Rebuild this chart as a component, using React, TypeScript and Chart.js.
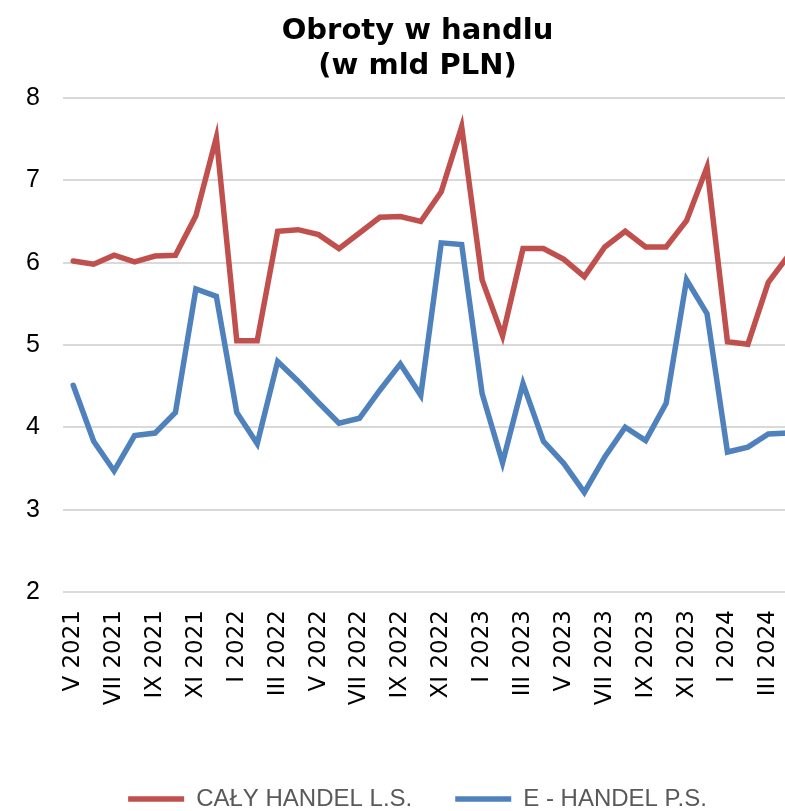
import React, { useEffect, useRef } from "react";
import { Chart, registerables } from "chart.js";

Chart.register(...registerables);

const categories = [
  "V 2021", "VI 2021", "VII 2021", "VIII 2021", "IX 2021", "X 2021", "XI 2021", "XII 2021",
  "I 2022", "II 2022", "III 2022", "IV 2022", "V 2022", "VI 2022", "VII 2022", "VIII 2022",
  "IX 2022", "X 2022", "XI 2022", "XII 2022",
  "I 2023", "II 2023", "III 2023", "IV 2023", "V 2023", "VI 2023", "VII 2023", "VIII 2023",
  "IX 2023", "X 2023", "XI 2023", "XII 2023",
  "I 2024", "II 2024", "III 2024", "IV 2024",
];

const calyHandel = [
  6.02, 5.98, 6.09, 6.01, 6.08, 6.09, 6.57, 7.52, 5.05, 5.05, 6.38, 6.40,
  6.34, 6.17, 6.36, 6.55, 6.56, 6.50, 6.86, 7.65, 5.79, 5.11, 6.17, 6.17,
  6.04, 5.83, 6.19, 6.38, 6.19, 6.19, 6.51, 7.16, 5.04, 5.01, 5.76, 6.09,
];

const eHandel = [
  4.51, 3.83, 3.47, 3.90, 3.93, 4.18, 5.68, 5.59, 4.18, 3.80, 4.80, 4.56,
  4.30, 4.05, 4.11, 4.45, 4.77, 4.39, 6.24, 6.22, 4.41, 3.57, 4.53, 3.83,
  3.56, 3.21, 3.64, 4.00, 3.84, 4.29, 5.79, 5.38, 3.70, 3.76, 3.92, 3.93,
];

const yTicks = [2, 3, 4, 5, 6, 7, 8];

const titleLines = ["Obroty w handlu", "(w mld PLN)"];
const seriesNames = ["CAŁY HANDEL L.S.", "E - HANDEL P.S."];

export default function App() {
  const ref = useRef<HTMLCanvasElement | null>(null);

  useEffect(() => {
    if (!ref.current) return;
    const chart = new Chart(ref.current, {
      type: "line",
      data: {
        labels: categories,
        datasets: [
          {
            label: seriesNames[0],
            data: calyHandel,
            borderColor: "#C0504D",
            backgroundColor: "#C0504D",
            borderWidth: 5.5,
            pointRadius: 0,
            tension: 0,
            borderCapStyle: "round",
          },
          {
            label: seriesNames[1],
            data: eHandel,
            borderColor: "#4F81BD",
            backgroundColor: "#4F81BD",
            borderWidth: 5.5,
            pointRadius: 0,
            tension: 0,
            borderCapStyle: "round",
          },
        ],
      },
      options: {
        responsive: false,
        animation: false,
        layout: { padding: 0 },
        plugins: {
          title: {
            display: true,
            text: titleLines,
            color: "#000",
            font: { family: "'DejaVu Sans', Verdana, sans-serif", size: 29, weight: "bold", lineHeight: 1.24 },
            padding: { top: 13, bottom: 13 },
          },
          legend: {
            display: true,
            position: "bottom",
            fullSize: true,
            labels: {
              usePointStyle: true,
              pointStyle: "line",
              pointStyleWidth: 56,
              color: "#595959",
              font: { family: "'Liberation Sans', Arial, sans-serif", size: 24 },
              padding: 43,
            },
          },
          tooltip: { enabled: false },
        },
        scales: {
          x: {
            offset: true,
            grid: { display: false, drawTicks: false },
            border: { display: false },
            ticks: {
              autoSkip: false,
              maxRotation: 90,
              minRotation: 90,
              padding: 18,
              color: "#000",
              font: { family: "'DejaVu Sans', Verdana, sans-serif", size: 23 },
              callback: (_v: any, i: number) => (i % 2 === 0 ? categories[i] : ""),
            },
            afterFit: (s: any) => {
              s.height = 152;
            },
          },
          y: {
            min: yTicks[0],
            max: yTicks[yTicks.length - 1],
            grid: { color: "#d9d9d9", lineWidth: 2, drawTicks: false },
            border: { display: false },
            afterBuildTicks: (s: any) => {
              s.ticks = yTicks.map((v) => ({ value: v }));
            },
            ticks: {
              padding: 23,
              color: "#000",
              font: { family: "'Liberation Sans', Arial, sans-serif", size: 25 },
            },
            afterFit: (s: any) => {
              s.width = 63;
            },
          },
          y2: {
            position: "right",
            min: yTicks[0],
            max: yTicks[yTicks.length - 1],
            grid: { display: false, drawTicks: false },
            border: { display: false },
            ticks: { display: false },
            afterFit: (s: any) => {
              s.width = 36;
            },
          },
        },
      },
    });
    return () => chart.destroy();
  }, []);

  return (
    <div
      style={{
        position: "fixed",
        left: 0,
        top: 0,
        width: 785,
        height: 811,
        overflow: "hidden",
        background: "#fff",
      }}
    >
      <canvas ref={ref} width={835} height={821} style={{ display: "block", width: 835, height: 821 }} />
    </div>
  );
}
